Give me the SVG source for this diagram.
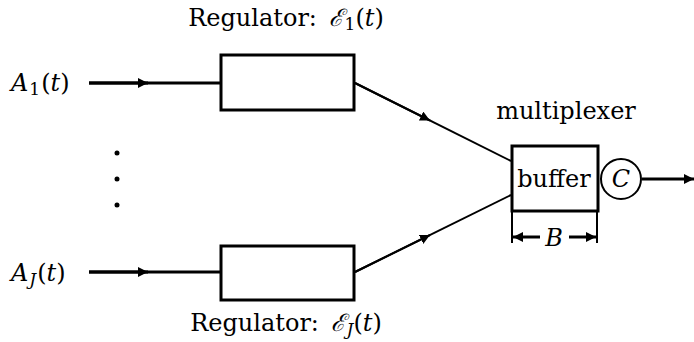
<svg xmlns="http://www.w3.org/2000/svg" width="694" height="342" viewBox="0 0 694 342">
<style>
.t{font-family:"DejaVu Serif",serif;font-size:24px;fill:#000}
.it{font-style:italic}
.box{fill:#fff;stroke:#000;stroke-width:3}
.ln{stroke:#000;fill:none}
</style>
<defs>
<marker id="ah" viewBox="0 0 10 10" refX="10" refY="5" markerWidth="10" markerHeight="10" markerUnits="userSpaceOnUse" orient="auto">
<path d="M0,0 L10,5 L0,10 Z" fill="#000"/>
</marker>
</defs>
<g id="connectors">
<path class="ln" stroke-width="3" d="M89,83 H221"/>
<path class="ln" stroke-width="3" d="M89,83 H148" marker-end="url(#ah)"/>
<path class="ln" stroke-width="3" d="M89,272 H221"/>
<path class="ln" stroke-width="3" d="M89,272 H148" marker-end="url(#ah)"/>
<path class="ln" stroke-width="2" d="M355,83 L511,161"/>
<path class="ln" stroke-width="2" d="M355,83 L430,120.5" marker-end="url(#ah)"/>
<path class="ln" stroke-width="2" d="M355,272 L511,195"/>
<path class="ln" stroke-width="2" d="M355,272 L430,235" marker-end="url(#ah)"/>
<path class="ln" stroke-width="3" d="M642,179 H694" marker-end="url(#ah)"/>
<path class="ln" stroke-width="2" d="M512,211 V243 M597,211 V243"/>
<path class="ln" stroke-width="3" d="M540,237 H513" marker-end="url(#ah)"/>
<path class="ln" stroke-width="3" d="M569,237 H596" marker-end="url(#ah)"/>
</g>
<g id="reg1"><rect class="box" x="221" y="55" width="133" height="55"/><text class="t" x="286" y="26" text-anchor="middle">Regulator: <tspan class="it" dx="4">ℰ</tspan><tspan font-size="17" dy="4" dx="2">1</tspan><tspan dy="-4">(</tspan><tspan class="it">t</tspan>)</text></g>
<g id="regJ"><rect class="box" x="221" y="246" width="133" height="54"/><text class="t" x="286" y="331" text-anchor="middle">Regulator: <tspan class="it" dx="4">ℰ</tspan><tspan class="it" font-size="17" dy="4" dx="2">J</tspan><tspan dy="-4">(</tspan><tspan class="it">t</tspan>)</text></g>
<g id="a1"><text class="t" x="11" y="91"><tspan class="it">A</tspan><tspan font-size="17" dy="4" dx="1">1</tspan><tspan dy="-4" dx="1">(</tspan><tspan class="it">t</tspan>)</text></g>
<g id="aJ"><text class="t" x="11" y="281"><tspan class="it">A</tspan><tspan class="it" font-size="17" dy="4" dx="1">J</tspan><tspan dy="-4" dx="1">(</tspan><tspan class="it">t</tspan>)</text></g>
<g id="dots"><circle cx="117" cy="153" r="2.5"/><circle cx="117" cy="179" r="2.5"/><circle cx="117" cy="205" r="2.5"/></g>
<g id="buffer"><rect class="box" x="512" y="146" width="86" height="65"/><text class="t" x="554" y="187" text-anchor="middle">buffer</text><text class="t" x="566" y="119" text-anchor="middle">multiplexer</text></g>
<g id="server"><circle cx="621" cy="179" r="20" fill="#fff" stroke="#000" stroke-width="2"/><text class="t it" x="621" y="187" text-anchor="middle">C</text></g>
<g id="dimB"><text class="t it" x="554" y="246" text-anchor="middle">B</text></g>
</svg>
